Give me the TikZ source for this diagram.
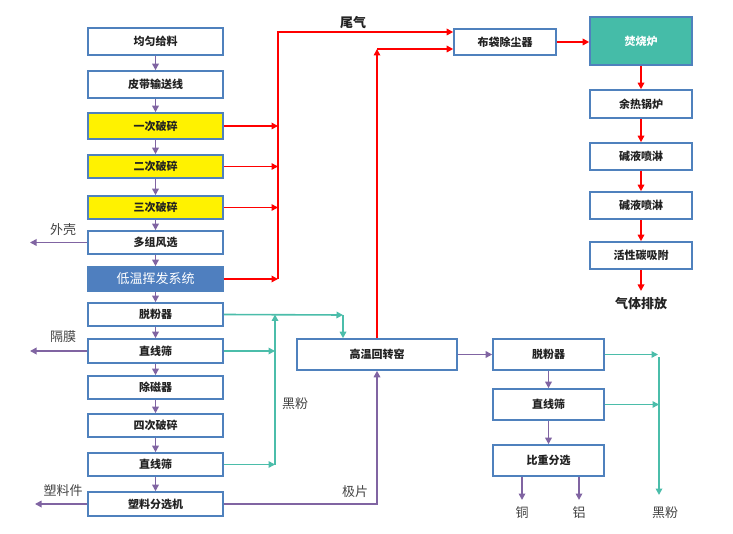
\documentclass[tikz,border=0pt]{standalone}
\usepackage{fontspec}
\setmainfont{Noto Sans CJK SC}
\usetikzlibrary{arrows.meta}
\definecolor{bxblue}{HTML}{4F81BD}
\definecolor{ppl}{HTML}{8064A2}
\definecolor{tl}{HTML}{4BBDAA}
\definecolor{tlfill}{HTML}{45BCA8}
\definecolor{lowblue}{HTML}{4F7FBF}
\definecolor{txt}{HTML}{222222}
\definecolor{lbl}{HTML}{444444}
\tikzset{
  box/.style={draw=bxblue, line width=1.6pt, fill=white, inner sep=0pt, text=txt, font=\fontsize{11}{13}\selectfont\bfseries},
  tip/.style={-{Triangle[length=6.5pt,width=6.5pt]}},
  pline/.style={draw=ppl, line width=1.6pt},
  rline/.style={draw=red, line width=1.6pt},
  tline/.style={draw=tl, line width=1.6pt},
  lab/.style={text=lbl, font=\fontsize{13}{15}\selectfont},
  blab/.style={text=txt, font=\fontsize{13}{15}\selectfont\bfseries},
}
\begin{document}
\begin{tikzpicture}[x=1pt,y=-1pt]
\useasboundingbox[fill=white] (0,0) rectangle (733,534);
% left column
\node[box, minimum width=135, minimum height=27] (a1) at (155.5,41.5) {均匀给料};
\node[box, minimum width=135, minimum height=27] (a2) at (155.5,84.5) {皮带输送线};
\node[box, minimum width=135, minimum height=26, fill=yellow] (a3) at (155.5,126) {一次破碎};
\node[box, minimum width=135, minimum height=23, fill=yellow] (a4) at (155.5,166.5) {二次破碎};
\node[box, minimum width=135, minimum height=23, fill=yellow] (a5) at (155.5,207.5) {三次破碎};
\node[box, minimum width=135, minimum height=23] (a6) at (155.5,242.5) {多组风选};
\node[box, minimum width=135, minimum height=24, fill=lowblue, text=white, font=\fontsize{13}{15}\selectfont] (a7) at (155.5,279) {低温挥发系统};
\node[box, minimum width=135, minimum height=23] (a8) at (155.5,314.5) {脱粉器};
\node[box, minimum width=135, minimum height=24] (a9) at (155.5,351) {直线筛};
\node[box, minimum width=135, minimum height=23] (a10) at (155.5,387.5) {除磁器};
\node[box, minimum width=135, minimum height=23] (a11) at (155.5,425.5) {四次破碎};
\node[box, minimum width=135, minimum height=23] (a12) at (155.5,464.5) {直线筛};
\node[box, minimum width=135, minimum height=24] (a13) at (155.5,504) {塑料分选机};
% top / right column
\node[box, minimum width=102, minimum height=26] (b1) at (505,42) {布袋除尘器};
\node[box, minimum width=102, minimum height=48, fill=tlfill, text=white] (f1) at (641,41) {焚烧炉};
\node[box, minimum width=102, minimum height=28] (f2) at (641,104) {余热锅炉};
\node[box, minimum width=102, minimum height=27] (f3) at (641,156.5) {碱液喷淋};
\node[box, minimum width=102, minimum height=27] (f4) at (641,205.5) {碱液喷淋};
\node[box, minimum width=102, minimum height=27] (f5) at (641,255.5) {活性碳吸附};
\node[blab] (gas) at (641,304) {气体排放};
% middle / right-bottom
\node[box, minimum width=160, minimum height=31] (k) at (377,354.5) {高温回转窑};
\node[box, minimum width=111, minimum height=31] (c1) at (548.5,354.5) {脱粉器};
\node[box, minimum width=111, minimum height=31] (c2) at (548.5,404.5) {直线筛};
\node[box, minimum width=111, minimum height=31] (c3) at (548.5,460.5) {比重分选};
% labels
\node[blab] (weiqi) at (353,23) {尾气};
\node[lab] (waike) at (63,230) {外壳};
\node[lab] (gemo) at (63,337) {隔膜};
\node[lab] (sljian) at (63,491) {塑料件};
\node[lab] (heifen1) at (295,404) {黑粉};
\node[lab] (jipian) at (355,492) {极片};
\node[lab] (tong) at (522,513) {铜};
\node[lab] (lv) at (579,513) {铝};
\node[lab] (heifen2) at (665,513) {黑粉};
% coordinates
\coordinate (rv) at (278,0);
\coordinate (rtop) at (278,32);
\coordinate (rbot) at (278,279);
\coordinate (r2) at (377,49);
\coordinate (tv) at (275,0);
\coordinate (t1) at (343,315);
\coordinate (jp) at (377,504);
\coordinate (o1) at (30,242.5);
\coordinate (o2) at (30,351);
\coordinate (o3) at (35,504);
\coordinate (cu) at (522,500);
\coordinate (al) at (579,500);
\coordinate (h1) at (658,354.5);
\coordinate (h2) at (659,357);
\coordinate (h3) at (659,495);
\coordinate (hv) at (659,0);
\coordinate (gend) at (641,291);
% purple vertical chain
\foreach \u/\v in {a1/a2,a2/a3,a3/a4,a4/a5,a5/a6,a6/a7,a7/a8,a8/a9,a9/a10,a10/a11,a11/a12,a12/a13}
  \draw[pline, tip] (\u.south) -- (\v.north);
\draw[pline, tip] (a6.west) -- (o1);
\draw[pline, tip] (a9.west) -- (o2);
\draw[pline, tip] (a13.west) -- (o3);
\draw[pline, tip] (a13.east) -- (jp) -- (k.south);
\draw[pline, tip] (k.east) -- (c1.west);
\draw[pline, tip] (c1.south) -- (c2.north);
\draw[pline, tip] (c2.south) -- (c3.north);
\draw[pline, tip] (c3.south -| cu) -- (cu);
\draw[pline, tip] (c3.south -| al) -- (al);
% red
\foreach \u in {a3,a4,a5,a7}
  \draw[rline, tip] (\u.east) -- (\u.east -| rv);
\draw[rline, tip] (rbot) -- (rtop) -- (b1.west |- rtop);
\draw[rline, tip] (k.north) -- (r2);
\draw[rline, tip] (r2) -- (b1.west |- r2);
\draw[rline, tip] (b1.east) -- (f1.west |- b1.east);
\draw[rline, tip] (f1.south) -- (f2.north);
\draw[rline, tip] (f2.south) -- (f3.north);
\draw[rline, tip] (f3.south) -- (f4.north);
\draw[rline, tip] (f4.south) -- (f5.north);
\draw[rline, tip] (f5.south) -- (gend);
% teal
\draw[tline, tip] (a8.east) -- (t1);
\draw[tline, tip] (t1) -- (t1 |- k.north);
\draw[tline, tip] (a12.east -| tv) -- (a8.east -| tv);
\draw[tline, tip] (a9.east) -- (a9.east -| tv);
\draw[tline, tip] (a12.east) -- (a12.east -| tv);
\draw[tline, tip] (c1.east) -- (h1);
\draw[tline, tip] (h2) -- (h3);
\draw[tline, tip] (c2.east) -- (c2.east -| hv);
\end{tikzpicture}
\end{document}
